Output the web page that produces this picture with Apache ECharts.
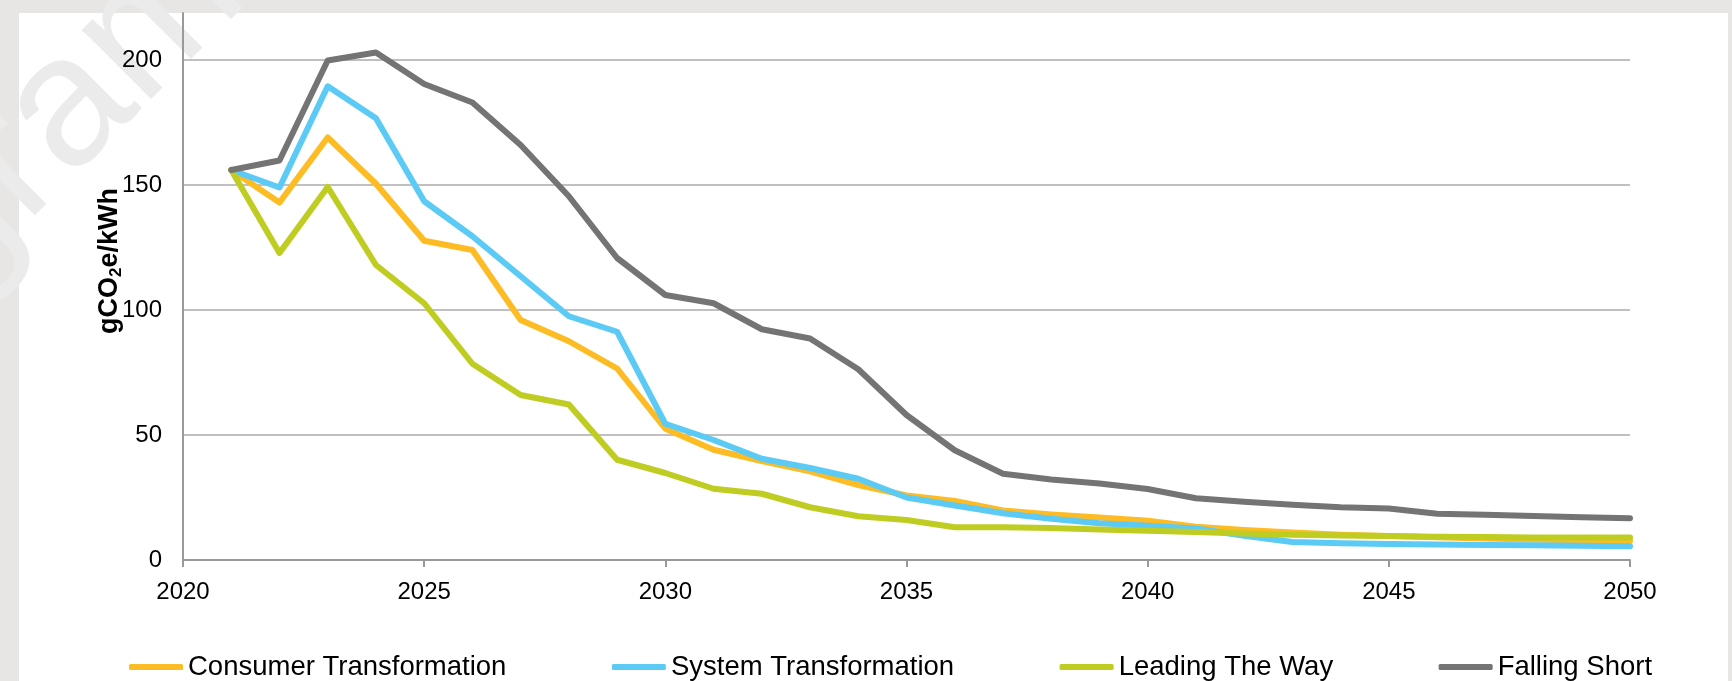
<!DOCTYPE html>
<html>
<head>
<meta charset="utf-8">
<title>Grid carbon intensity by scenario</title>
<script src="https://cdn.jsdelivr.net/npm/echarts@6.0.0/dist/echarts.min.js"></script>
<style>
  html, body { margin: 0; padding: 0; background: #e7e6e4; }
  #chart { width: 1732px; height: 681px; }
</style>
</head>
<body>
<div id="chart"></div>
<script>
// Years covered by the scenarios
const years = [2021, 2022, 2023, 2024, 2025, 2026, 2027, 2028, 2029, 2030,
               2031, 2032, 2033, 2034, 2035, 2036, 2037, 2038, 2039, 2040,
               2041, 2042, 2043, 2044, 2045, 2046, 2047, 2048, 2049, 2050];

// Carbon intensity of electricity, gCO2e/kWh
const consumerTransformation = [156, 143, 169, 150.5, 127.7, 124, 96, 87.5, 76.6, 52.5,
  44.1, 39.6, 35.5, 30, 25.8, 23.6, 19.8, 18.2, 17, 15.7,
  13.3, 12, 11, 10.1, 9.6, 9.1, 8.6, 8.2, 7.8, 7.6];
const systemTransformation = [156, 149, 189.5, 176.7, 143.5, 129.5, 113.5, 97.5, 91.3, 54.5,
  48, 40.5, 36.8, 32.5, 25, 21.8, 18.7, 16.5, 14.7, 13.7,
  12.6, 9.7, 7.2, 6.7, 6.4, 6.2, 6.0, 5.9, 5.7, 5.5];
const leadingTheWay = [156, 122.8, 149.2, 118, 102.7, 78.5, 66, 62.2, 40.1, 34.8,
  28.5, 26.5, 21.1, 17.5, 16, 13.1, 13.1, 12.8, 12.2, 11.7,
  11.2, 10.6, 10.1, 9.8, 9.6, 9.3, 9.2, 9.0, 9.0, 9.0];
const fallingShort = [156, 159.8, 199.8, 203, 190.4, 183, 166, 145.5, 120.8, 106,
  102.7, 92.3, 88.6, 76.3, 58, 43.9, 34.5, 32.2, 30.6, 28.4,
  24.7, 23.3, 22.1, 21.1, 20.6, 18.5, 18.1, 17.6, 17.1, 16.7];

const seriesNames = ['Consumer Transformation', 'System Transformation', 'Leading The Way', 'Falling Short'];
const seriesColors = ['#fdbb24', '#5bcaf5', '#bfcd22', '#747474'];
const seriesValues = [consumerTransformation, systemTransformation, leadingTheWay, fallingShort];

// Axis settings
const xMin = 2020, xMax = 2050, xStep = 5;
const yMin = 0, yStep = 50, yTopValue = 218.8;

const font = 'Liberation Sans, Arial, sans-serif';

const chart = echarts.init(document.getElementById('chart'), null, { renderer: 'canvas' });

const series = seriesNames.map((name, i) => ({
  name: name,
  type: 'line',
  data: years.map((yr, j) => [yr, seriesValues[i][j]]),
  showSymbol: false,
  symbol: 'none',
  smooth: false,
  lineStyle: { width: 6, color: seriesColors[i], cap: 'round', join: 'round' },
  itemStyle: { color: seriesColors[i] },
  emphasis: { disabled: true },
  animation: false
}));

chart.setOption({
  animation: false,
  backgroundColor: '#e7e6e4',
  graphic: [
    { type: 'rect', z: -30, silent: true,
      shape: { x: 19, y: 13, width: 1709, height: 668 },
      style: { fill: '#ffffff' } },
    { type: 'text', z: -10, silent: true,
      x: 215, y: -37, rotation: 45 * Math.PI / 180,
      style: { text: 'Diagram', fontSize: 185, fontFamily: font,
               fill: '#ebebeb', align: 'right', verticalAlign: 'middle' } },
    { type: 'text', z: 10, silent: true,
      x: 110, y: 261, rotation: Math.PI / 2,
      style: {
        text: '{a|gCO}{b|2}{a|e/kWh}',
        align: 'center', verticalAlign: 'middle',
        rich: {
          a: { fontSize: 27, fontWeight: 'bold', fontFamily: font, fill: '#000', lineHeight: 30 },
          b: { fontSize: 17, fontWeight: 'bold', fontFamily: font, fill: '#000', lineHeight: 30, verticalAlign: 'bottom' }
        }
      } }
  ],
  grid: { left: 183, right: 102, top: 13, bottom: 121, containLabel: false },
  legend: {
    data: seriesNames,
    left: 129, top: 653, padding: 0,
    icon: 'roundRect', itemWidth: 54, itemHeight: 6, itemGap: 105.5,
    textStyle: { fontSize: 27.5, fontFamily: font, color: '#000' },
    selectedMode: false
  },
  xAxis: {
    type: 'value', min: xMin, max: xMax, interval: xStep,
    axisLine: { show: true, lineStyle: { color: '#999999', width: 2 } },
    axisTick: { show: true, length: 7, lineStyle: { color: '#999999', width: 2 } },
    axisLabel: { fontSize: 24, fontFamily: font, color: '#000', margin: 20,
                 formatter: v => String(v) },
    splitLine: { show: false }
  },
  yAxis: {
    type: 'value', min: yMin, max: yTopValue, interval: yStep,
    axisLine: { show: true, lineStyle: { color: '#999999', width: 2 } },
    axisTick: { show: false },
    axisLabel: {
      fontSize: 24, fontFamily: font, color: '#000', margin: 21, showMaxLabel: false,
      formatter: v => (v % yStep === 0 ? String(v) : '')
    },
    splitLine: { show: true, showMaxLine: false, lineStyle: { color: '#c0c0c0', width: 2 } }
  },
  series: series
});
</script>
</body>
</html>
